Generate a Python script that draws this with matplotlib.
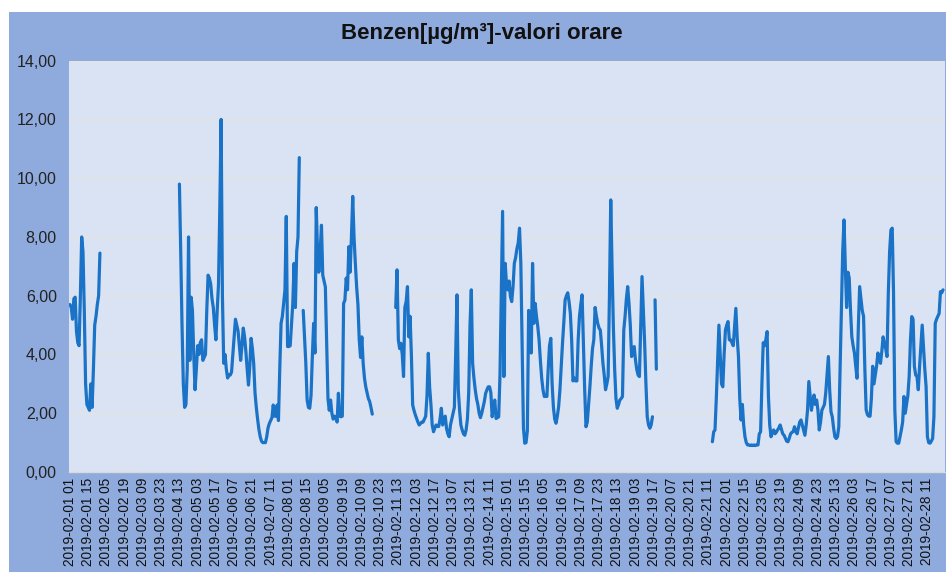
import numpy as np
import matplotlib
matplotlib.use("Agg")
import matplotlib.pyplot as plt
from matplotlib.patches import Rectangle

plt.rcParams['font.family'] = ['Liberation Sans', 'DejaVu Sans']

title = "Benzen[µg/m³]-valori orare"

# hourly categories: 2019-02-01 01 ... 2019-02-28 24
n_hours = 672
categories = ["2019-02-%02d %02d" % (1 + h // 24, h % 24 + 1) for h in range(n_hours)]

tick_labels = [
    "2019-02-01 01", "2019-02-01 15", "2019-02-02 05", "2019-02-02 19", "2019-02-03 09",
    "2019-02-03 23", "2019-02-04 13", "2019-02-05 03", "2019-02-05 17", "2019-02-06 07",
    "2019-02-06 21", "2019-02-07 11", "2019-02-08 01", "2019-02-08 15", "2019-02-09 05",
    "2019-02-09 19", "2019-02-10 09", "2019-02-10 23", "2019-02-11 13", "2019-02-12 03",
    "2019-02-12 17", "2019-02-13 07", "2019-02-13 21", "2019-02-14 11", "2019-02-15 01",
    "2019-02-15 15", "2019-02-16 05", "2019-02-16 19", "2019-02-17 09", "2019-02-17 23",
    "2019-02-18 13", "2019-02-19 03", "2019-02-19 17", "2019-02-20 07", "2019-02-20 21",
    "2019-02-21 11", "2019-02-22 01", "2019-02-22 15", "2019-02-23 05", "2019-02-23 19",
    "2019-02-24 09", "2019-02-24 23", "2019-02-25 13", "2019-02-26 03", "2019-02-26 17",
    "2019-02-27 07", "2019-02-27 21", "2019-02-28 11",
]

y_ticks = [0, 2, 4, 6, 8, 10, 12, 14]

# measured segments (None = missing hour)
seg1_start = "2019-02-01 01"
seg1 = [5.7, 5.6, 5.2, 5.9, 5.95, 4.8, 4.4, 4.3, 6.0, 8.0, 7.5, 5.5, 3.0, 2.3, 2.2, 2.1,
        3.0, 2.2, 3.5, 5.0, 5.3, 5.7, 6.0, 7.45]

seg2_start = "2019-02-04 13"
seg2 = [9.8, 7.5, 5.0, 3.0, 2.2, 2.3, 3.5, 8.0, 3.8, 5.95, 5.5, 4.0, 2.8, 3.5, 4.3, 4.0,
        4.4, 4.5, 3.8, 3.9, 4.0, 5.5, 6.7, 6.6, 6.4, 5.9, 5.6, 5.0, 4.5, 5.5, 6.4, 9.0,
        12.0, 6.0, 3.7, 4.0, 3.5, 3.2, 3.3, 3.3, 3.4, 4.0, 4.6, 5.2, 5.0, 4.8, 4.3, 3.8,
        4.3, 4.9, 4.6, 4.1, 3.5, 2.96, 3.6, 4.55, 4.2, 3.7, 2.7, 2.2, 1.8, 1.45, 1.2, 1.05,
        1.0, 1.0, 1.0, 1.2, 1.5, 1.65, 1.75, 1.85, 2.28, 1.9, 1.9, 2.28, 1.75, 3.5, 5.06, 5.3,
        5.74, 6.2, 8.7, 4.27, 4.27, 4.3, 5.0, 5.74, 7.1, 5.6, 7.5, 8.0, 10.7, None, None, 5.5,
        4.6, 3.7, 2.45, 2.2, 2.17, 2.6, 3.93, 5.06, 4.05, 9.0, 7.5, 6.8, 7.5, 8.4, 6.7, 6.5,
        6.3, 4.4, 2.5, 2.1, 2.45, 2.0, 1.8, 1.9, 1.88, 1.7, 2.68, 1.9, 1.88, 1.9, 5.74, 5.85,
        6.6, 6.2, 7.67, 6.8, 8.0, 9.38, 8.0, 7.1, 6.3, 5.7, 4.5, 3.9, 4.6, 3.7, 3.2, 2.9,
        2.7, 2.5, 2.4, 2.2, 1.97]

seg3_start = "2019-02-11 11"
seg3 = [5.6, 6.88, 4.5, 4.2, 4.38, 4.0, 3.25, 5.6, 5.8, 6.31, 4.6, 5.3, 4.0, 2.28, 2.1, 1.95,
        1.82, 1.7, 1.6, 1.65, 1.7, 1.7, 1.8, 1.9, 2.6, 4.04, 2.9, 2.3, 1.6, 1.37, 1.5, 1.6,
        1.55, 1.55, 1.8, 2.17, 1.6, 1.75, 1.9, 1.48, 1.3, 1.2, 1.6, 1.8, 2.0, 2.2, 4.0, 6.03,
        2.8, 2.1, 1.6, 1.43, 1.3, 1.25, 1.43, 1.8, 2.7, 5.0, 6.2, 3.7, 3.2, 2.8, 2.5, 2.3,
        2.0, 1.85, 2.0, 2.2, 2.4, 2.68, 2.8, 2.9, 2.9, 2.7, 1.88, 2.2, 2.45, 1.82, 1.85, 1.88,
        3.3, 6.2, 8.87, 3.25, 7.1, 6.4, 6.2, 6.5, 5.97, 5.8, 6.3, 7.1, 7.3, 7.6, 7.8, 8.3,
        7.1, 4.4, 1.5, 0.98, 1.0, 1.4, 5.5, 4.5, 4.05, 7.1, 5.06, 5.74, 5.3, 4.95, 4.5, 3.8,
        3.2, 2.8, 2.57, 2.6, 2.57, 3.5, 4.3, 4.55, 3.0, 2.2, 1.8, 1.66, 1.9, 2.22, 2.8, 3.6,
        4.4, 5.1, 5.86, 6.0, 6.1, 5.8, 5.4, 4.5, 3.1, 3.2, 3.1, 3.1, 4.5, 5.3, 5.7, 6.03,
        4.4, 2.8, 1.54, 1.7, 2.3, 2.9, 3.6, 4.2, 4.5, 5.6, 5.3, 5.06, 4.9, 4.83, 4.3, 3.7,
        3.3, 2.8, 3.0, 3.25, 6.0, 9.26, 7.0, 4.95, 3.5, 2.5, 2.17, 2.3, 2.45, 2.5, 2.57, 4.83,
        5.3, 5.9, 6.31, 5.74, 5.0, 3.93, 4.1, 4.27, 3.8, 3.48, 3.3, 3.25, 5.0, 6.65, 5.5, 4.4,
        3.0, 1.88, 1.6, 1.49, 1.6, 1.88, None, 5.86, 3.5]

seg4_start = "2019-02-21 14"
seg4 = [1.03, 1.37, 1.43, 2.5, 3.8, 5.0, 4.0, 3.0, 2.9, 4.0, 4.83, 5.0, 5.12, 4.5, 4.5, 4.4,
        4.3, 4.95, 5.57, 4.6, 3.93, 2.5, 1.77, 2.3, 1.6, 1.2, 1.0, 0.92, 0.92, 0.9, 0.92, 0.9,
        0.92, 0.9, 0.92, 0.92, 1.3, 1.37, 3.0, 4.4, 4.3, 4.5, 4.78, 2.57, 1.6, 1.2, 1.35, 1.43,
        1.3, 1.35, 1.43, 1.5, 1.6, 1.45, 1.3, 1.25, 1.15, 1.05, 1.03, 1.15, 1.3, 1.35, 1.37, 1.54,
        1.4, 1.3, 1.5, 1.7, 1.77, 1.6, 1.43, 1.25, 1.6, 2.1, 3.08, 2.6, 2.1, 2.4, 2.62, 2.3,
        2.45, 2.1, 1.43, 1.7, 2.1, 2.2, 2.3, 2.7, 3.3, 3.93, 2.8, 2.05, 1.88, 1.5, 1.2, 1.14,
        1.2, 1.54, 3.5, 5.5, 7.5, 8.58, 7.0, 5.6, 6.8, 6.6, 5.5, 4.6, 4.3, 4.05, 3.6, 3.19,
        4.95, 6.31, 5.9, 5.5, 5.3, 3.5, 2.11, 1.95, 1.9, 1.9, 2.5, 3.6, 3.0, 3.3, 3.6, 4.05,
        3.9, 3.7, 4.1, 4.6, 4.38, 4.2, 3.93, 6.09, 7.5, 8.24, 8.3, 6.09, 2.11, 1.03, 0.98, 0.98,
        1.2, 1.43, 1.7, 2.57, 2.0, 2.3, 2.6, 3.25, 4.5, 5.29, 5.2, 3.6, 3.3, 3.25, 2.8, 3.6,
        4.3, 5.0, 4.27, 3.5, 2.9, 1.2, 1.0, 0.98, 1.05, 1.14, 1.88, 5.06, 5.2, 5.3, 5.4, 6.14,
        6.1, 6.2]

segments = [(seg1_start, seg1), (seg2_start, seg2), (seg3_start, seg3), (seg4_start, seg4)]

values = np.full(n_hours, np.nan)
for start, seg in segments:
    i0 = categories.index(start)
    for k, v in enumerate(seg):
        if v is not None and i0 + k < n_hours:
            values[i0 + k] = v

x = np.arange(n_hours)

W, H = 946, 572
fig = plt.figure(figsize=(W / 100, H / 100), dpi=100)
fig.patch.set_facecolor('white')

# chart area background
fig.add_artist(Rectangle((9 / W, 0), (W - 9) / W, (H - 12) / H, transform=fig.transFigure,
                         facecolor='#8FAADC', edgecolor='none', zorder=0))

ax = fig.add_axes([69.3 / W, (H - 472) / H, (945 - 69.3) / W, (472 - 60.7) / H])
ax.set_facecolor('#DAE3F3')
ax.set_zorder(1)

ax.plot(x, values, color='#1A73C6', lw=2.3, solid_joinstyle='round', solid_capstyle='round')

ax.set_xlim(-0.5, n_hours - 0.5)
ax.set_ylim(0, 14)
ax.set_yticks(y_ticks)
ax.set_yticklabels([("%.2f" % t).replace('.', ',') for t in y_ticks], fontsize=11.5, color='#222222')
ax.yaxis.grid(True, color='#E3E3E3', lw=1)
ax.set_axisbelow(True)

tick_pos = [categories.index(t) for t in tick_labels]
ax.set_xticks(tick_pos)
ax.set_xticklabels(tick_labels, rotation=90, fontsize=9.8, color='#111111')
ax.tick_params(axis='both', length=0)
ax.tick_params(axis='y', pad=9)
ax.tick_params(axis='x', pad=4)

for s in ['top', 'right', 'left']:
    ax.spines[s].set_visible(False)
ax.spines['bottom'].set_color('#D9D9D9')
ax.spines['bottom'].set_linewidth(1)

fig.text(482 / W, 1 - 33 / H, title, ha='center', va='center', fontsize=16,
         fontweight='bold', color='#111111')

fig.savefig('out.png', dpi=100)
